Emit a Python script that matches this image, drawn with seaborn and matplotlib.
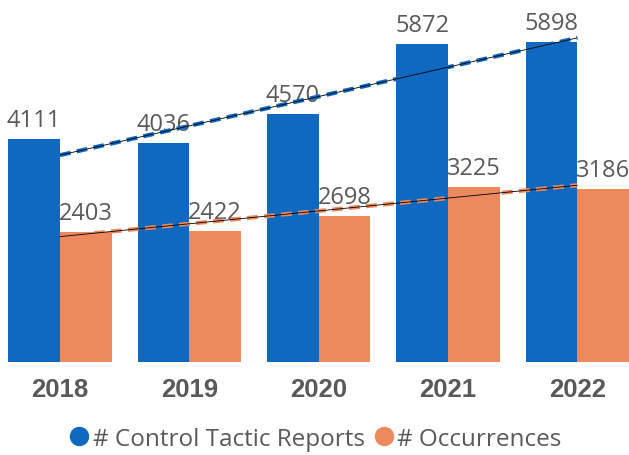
import numpy as np
import pandas as pd
import matplotlib
matplotlib.use("Agg")
import matplotlib.pyplot as plt
from matplotlib.lines import Line2D
import seaborn as sns

years = ["2018", "2019", "2020", "2021", "2022"]
control_reports = [4111, 4036, 4570, 5872, 5898]
occurrences = [2403, 2422, 2698, 3225, 3186]
series_names = ["# Control Tactic Reports", "# Occurrences"]
colors = ["#0F69C0", "#EC8A5E"]
text_gray = "#595959"

sns.set_style("white")
plt.rcParams["font.family"] = ["Open Sans", "DejaVu Sans"]

df = pd.DataFrame({
    "year": years * 2,
    "value": control_reports + occurrences,
    "series": [series_names[0]] * len(years) + [series_names[1]] * len(years),
})

fig = plt.figure(figsize=(6.29, 4.56), dpi=100)
ax = fig.add_axes([0, 0.204, 1, 0.796])

sns.barplot(data=df, x="year", y="value", hue="series", palette=colors,
            saturation=1, width=0.8, ax=ax, legend=False, errorbar=None,
            linewidth=0)

for cont in ax.containers:
    ax.bar_label(cont, labels=[f"{int(v.get_height())}" for v in cont],
                 padding=5, fontsize=17, color=text_gray)

# linear trend lines
xs = np.arange(len(years))
for vals, col in zip([control_reports, occurrences], colors):
    coef = np.polyfit(xs, vals, 1)
    yfit = np.polyval(coef, xs)
    ax.plot(xs, yfit, color=col, lw=3.0, dashes=(2.6, 1.5), solid_capstyle="butt",
            dash_capstyle="butt", zorder=5)
    ax.plot(xs, yfit, color="black", lw=0.6, zorder=6)

ax.set_xlim(-0.464, 4.40)
ax.set_ylim(0, 6697)
ax.set_xlabel("")
ax.set_ylabel("")
ax.set_yticks([])
ax.tick_params(axis="x", length=0, pad=11)
for lab in ax.get_xticklabels():
    lab.set_fontfamily(["Liberation Sans", "DejaVu Sans"])
    lab.set_fontweight("bold")
    lab.set_fontsize(18.5)
    lab.set_color(text_gray)
for s in ax.spines.values():
    s.set_visible(False)

handles = [Line2D([], [], marker="o", linestyle="", markersize=13,
                  markerfacecolor=c, markeredgecolor=c) for c in colors]
fig.legend(handles, series_names, loc="center", bbox_to_anchor=(0.5, 0.036),
           ncol=2, frameon=False, fontsize=17.5, labelcolor=text_gray,
           handletextpad=0.05, columnspacing=0.3, handlelength=1.0)

fig.savefig("out.png", dpi=100)
